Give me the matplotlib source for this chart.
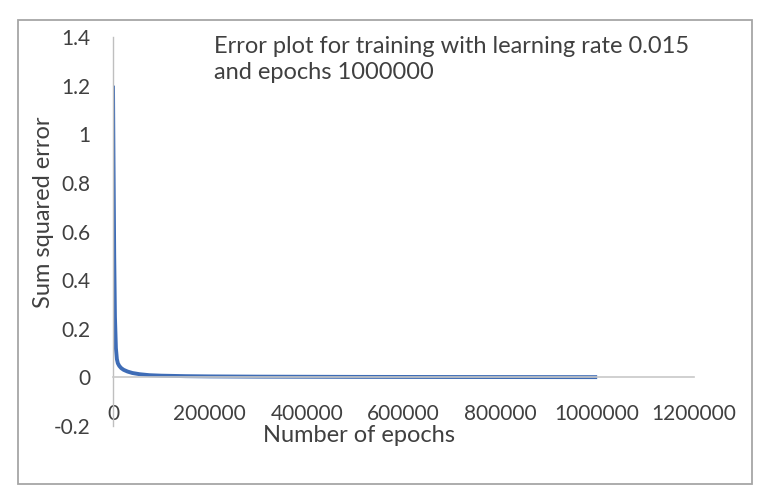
import matplotlib
matplotlib.use("Agg")
import matplotlib.pyplot as plt
from matplotlib.patches import Rectangle

# Training error curve
epochs = [0, 1000, 2500, 4000, 6000, 8000, 10000, 13000, 17000, 22000, 30000,
          40000, 55000, 75000, 100000, 150000, 200000, 300000, 500000, 700000, 1000000]
sse = [1.2, 0.9, 0.5, 0.25, 0.12, 0.075, 0.058, 0.047, 0.038, 0.031, 0.024,
       0.018, 0.013, 0.009, 0.007, 0.005, 0.004, 0.003, 0.002, 0.0015, 0.001]

x_ticks = [0, 200000, 400000, 600000, 800000, 1000000, 1200000]
x_tick_labels = ["0", "200000", "400000", "600000", "800000", "1000000", "1200000"]
y_ticks = [-0.2, 0, 0.2, 0.4, 0.6, 0.8, 1.0, 1.2, 1.4]
y_tick_labels = ["-0.2", "0", "0.2", "0.4", "0.6", "0.8", "1", "1.2", "1.4"]

title = "Error plot for training with learning rate 0.015\nand epochs 1000000"
x_label = "Number of epochs"
y_label = "Sum squared error"

plt.rcParams["font.family"] = ["Lato", "DejaVu Sans"]
text_color = "#404040"

W, H = 768, 499
fig = plt.figure(figsize=(W / 100, H / 100), dpi=100)
fig.patch.set_facecolor("white")

# outer chart frame
fig.patches.append(Rectangle((18 / W, 1 - 484 / H), (752 - 18) / W, (484 - 20) / H,
                             transform=fig.transFigure, fill=False,
                             edgecolor="#a6a6a6", linewidth=1.3))

ax = fig.add_axes([113 / W, 73 / H, 581 / W, 389 / H])
ax.set_xlim(0, 1200000)
ax.set_ylim(-0.2, 1.4)

ax.plot(epochs, sse, color="#3e6cb6", linewidth=2.8, solid_capstyle="butt")

for s in ("top", "right"):
    ax.spines[s].set_visible(False)
ax.spines["left"].set_color("#bfbfbf")
ax.spines["left"].set_linewidth(1.0)
ax.spines["bottom"].set_position(("data", 0))
ax.spines["bottom"].set_color("#c8c8c8")
ax.spines["bottom"].set_linewidth(1.2)
ax.set_zorder(1)

ax.set_xticks(x_ticks)
ax.set_xticklabels(x_tick_labels)
ax.set_yticks(y_ticks)
ax.set_yticklabels(y_tick_labels)
ax.tick_params(axis="x", length=0, pad=19, labelsize=15, labelcolor=text_color)
ax.tick_params(axis="y", length=0, pad=16, labelsize=15, labelcolor=text_color)

fig.text(359 / W, 1 - 436 / H, x_label, ha="center", va="center",
         fontsize=17, color=text_color)
fig.text(44 / W, 1 - 212 / H, y_label, ha="center", va="center",
         rotation=90, fontsize=17, color=text_color)
fig.text(214 / W, 1 - 36 / H, title, ha="left", va="top",
         fontsize=17, color=text_color, linespacing=1.3)

fig.savefig("out.png", dpi=100)
